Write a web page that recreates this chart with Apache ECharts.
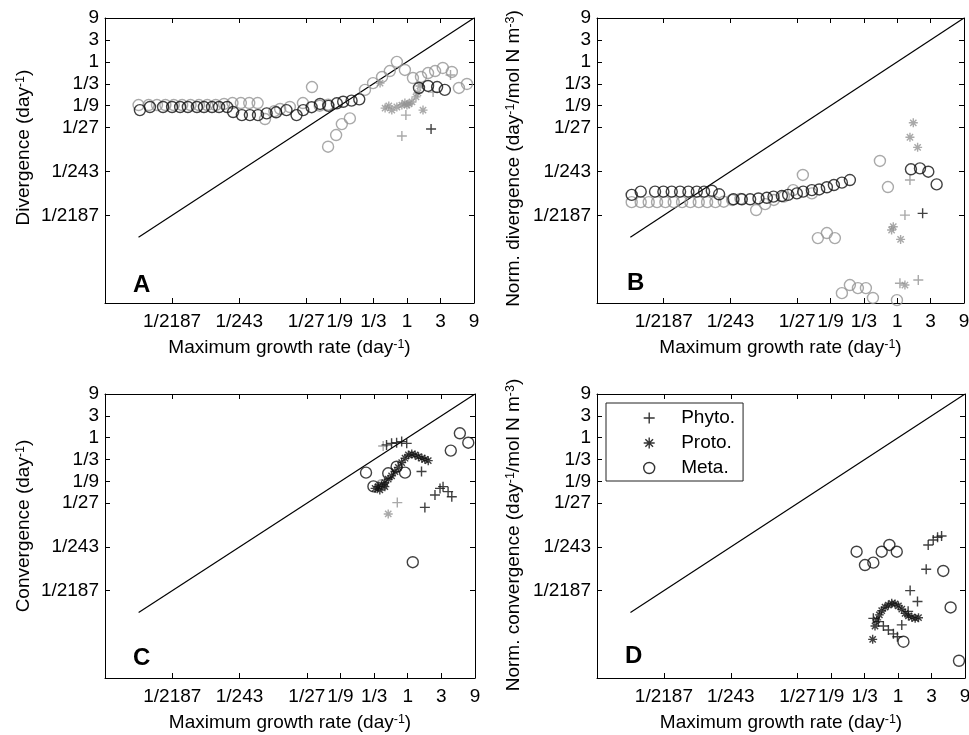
<!DOCTYPE html>
<html><head><meta charset="utf-8">
<script src="https://cdn.jsdelivr.net/npm/echarts@6/dist/echarts.min.js"></script>
<style>html,body{margin:0;padding:0;background:#fff}#c{width:969px;height:735px}</style>
</head><body><div id="c"></div>
<script>
// All point values below are written as base-3 exponents [log3(growth rate), log3(y value)],
// matching the powers-of-3 tick marks of the figure.
const tickValues = [1/2187, 1/243, 1/27, 1/9, 1/3, 1, 3, 9];
const tickLabels = ['1/2187', '1/243', '1/27', '1/9', '1/3', '1', '3', '9'];
const panelLetters = ['A', 'B', 'C', 'D'];
const legendNames = ['Phyto.', 'Proto.', 'Meta.'];
const diagLine = [[-8, -8], [2, 2]];

// Panel A : Divergence
const metaBlackA = [[-7.96,-2.20],[-7.66,-2.06],[-7.27,-2.06],[-7.00,-2.06],[-6.76,-2.06],[-6.53,-2.06],[-6.26,-2.06],[-6.05,-2.06],[-5.81,-2.06],[-5.60,-2.06],[-5.36,-2.06],[-5.18,-2.29],[-4.92,-2.43],[-4.68,-2.43],[-4.44,-2.43],[-4.18,-2.35],[-3.90,-2.30],[-3.59,-2.20],[-3.29,-2.43],[-3.09,-2.20],[-2.84,-2.07],[-2.59,-1.92],[-2.34,-2.01],[-2.09,-1.89],[-1.90,-1.82],[-1.65,-1.77],[-1.42,-1.71],[0.36,-1.19],[0.63,-1.10],[0.90,-1.15],[1.13,-1.28]];
const metaGrayA = [[-8.00,-1.97],[-7.70,-1.97],[-7.45,-1.97],[-7.20,-1.97],[-6.95,-1.97],[-6.70,-1.97],[-6.45,-1.97],[-6.20,-1.97],[-5.95,-1.97],[-5.70,-1.97],[-5.45,-1.92],[-5.20,-1.88],[-4.95,-1.88],[-4.70,-1.88],[-4.45,-1.88],[-4.23,-2.61],[-3.95,-2.25],[-3.78,-2.15],[-3.49,-2.06],[-3.10,-1.88],[-2.83,-1.15],[-2.60,-2.00],[-2.35,-1.95],[-1.25,-1.28],[-1.01,-0.97],[-0.74,-0.69],[-0.51,-0.42],[-0.30,0.00],[-0.06,-0.37],[0.18,-0.74],[0.42,-0.69],[0.63,-0.51],[0.84,-0.42],[1.07,-0.28],[1.34,-0.46],[1.55,-1.19],[1.79,-1.01],[-1.70,-2.58],[-1.94,-2.84],[-2.11,-3.34],[-2.35,-3.87]];
const protoGrayA = [[-0.80,-0.97],[-0.65,-2.11],[-0.54,-2.01],[-0.45,-2.20],[-0.30,-2.06],[-0.15,-1.97],[-0.06,-1.88],[0.00,-1.97],[0.06,-1.92],[0.15,-1.83],[0.27,-1.60],[0.33,-1.42],[0.39,-1.10],[0.48,-2.20]];
const phytoGrayA = [[-0.15,-3.38],[-0.03,-2.43],[0.78,-1.38],[1.30,-0.60]];
const phytoBlackA = [[0.72,-3.06]];

// Panel B : Normalised divergence
const metaBlackB = [[-7.96,-6.07],[-7.69,-5.92],[-7.26,-5.92],[-7.01,-5.92],[-6.76,-5.92],[-6.51,-5.92],[-6.26,-5.92],[-6.01,-5.92],[-5.79,-5.92],[-5.56,-5.88],[-5.34,-6.04],[-4.91,-6.27],[-4.66,-6.27],[-4.41,-6.27],[-4.16,-6.23],[-3.91,-6.20],[-3.71,-6.15],[-3.46,-6.12],[-3.27,-6.07],[-3.01,-6.00],[-2.82,-5.92],[-2.56,-5.85],[-2.34,-5.82],[-2.11,-5.72],[-1.90,-5.62],[-1.66,-5.51],[-1.42,-5.39],[0.41,-4.90],[0.68,-4.86],[0.93,-5.01],[1.18,-5.59]];
const metaGrayB = [[-7.96,-6.40],[-7.69,-6.40],[-7.45,-6.40],[-7.20,-6.40],[-6.95,-6.40],[-6.70,-6.40],[-6.45,-6.40],[-6.20,-6.40],[-5.95,-6.40],[-5.70,-6.40],[-5.45,-6.40],[-5.20,-6.38],[-4.95,-6.30],[-4.70,-6.25],[-4.23,-6.76],[-3.96,-6.49],[-3.70,-6.30],[-3.40,-6.15],[-3.12,-5.85],[-2.83,-5.16],[-2.56,-6.00],[-0.52,-4.52],[-0.28,-5.71],[-2.38,-8.04],[-2.11,-7.81],[-1.87,-8.04],[-1.66,-10.55],[-1.42,-10.18],[-1.18,-10.32],[-0.94,-10.32],[-0.73,-10.77],[-0.01,-10.87]];
const protoGrayB = [[0.48,-2.78],[0.38,-3.44],[0.61,-3.90],[-0.12,-7.52],[-0.17,-7.67],[0.10,-8.10],[0.23,-10.18]];
const phytoGrayB = [[0.38,-5.39],[0.23,-6.99],[0.08,-10.10],[0.63,-9.95]];
const phytoBlackB = [[0.76,-6.91]];

// Panel C : Convergence
const metaBlackC = [[-1.24,-1.60],[-1.02,-2.23],[-0.58,-1.63],[-0.33,-1.33],[-0.08,-1.60],[0.15,-5.70],[1.28,-0.59],[1.55,0.20],[1.80,-0.23]];
const metaGrayC = [[-0.78,-2.18]];
const phytoBlackC = [[-0.63,-0.33],[-0.48,-0.26],[-0.33,-0.23],[-0.18,-0.18],[-0.03,-0.26],[0.41,-1.55],[0.51,-3.19],[0.81,-2.62],[0.96,-2.32],[1.05,-2.24],[1.20,-2.47],[1.31,-2.70]];
const phytoGrayC = [[-0.73,-0.38],[-0.31,-2.97]];
const protoGrayC = [[-0.58,-3.49]];
const protoBlackC = [[-0.97,-2.32],[-0.83,-2.39],[-0.88,-2.24],[-0.78,-2.16],[-0.68,-2.24],[-0.68,-2.06],[-0.58,-1.90],[-0.48,-1.75],[-0.38,-1.55],[-0.28,-1.36],[-0.18,-1.14],[-0.08,-0.94],[0.02,-0.79],[0.12,-0.75],[0.22,-0.79],[0.32,-0.87],[0.42,-0.94],[0.51,-0.99],[0.61,-1.05]];

// Panel D : Normalised convergence
const metaBlackD = [[-1.24,-5.22],[-0.99,-5.83],[-0.74,-5.72],[-0.49,-5.22],[-0.26,-4.91],[-0.04,-5.22],[0.16,-9.34],[1.35,-6.10],[1.57,-7.77],[1.82,-10.21]];
const phytoBlackD = [[0.90,-4.91],[1.05,-4.68],[1.18,-4.56],[1.30,-4.50],[0.84,-6.02],[0.36,-7.00],[0.58,-7.50],[0.30,-7.95],[0.11,-8.57],[-0.74,-8.27],[-0.59,-8.42],[-0.44,-8.62],[-0.29,-8.80],[-0.14,-8.98],[-0.02,-9.11]];
const protoBlackD = [[-0.76,-9.23],[-0.69,-8.62],[-0.64,-8.34],[-0.56,-8.11],[-0.49,-7.92],[-0.39,-7.76],[-0.29,-7.66],[-0.19,-7.58],[-0.09,-7.61],[0.01,-7.70],[0.11,-7.85],[0.21,-8.04],[0.31,-8.16],[0.41,-8.22],[0.51,-8.27],[0.61,-8.24]];

const xNameText = '{a|Maximum growth rate (day}{s|-1}{a|)}';
const yNameTexts = [
  '{a|Divergence (day}{s|-1}{a|)}',
  '{a|Norm. divergence (day}{s|-1}{a|/mol N m}{s|-3}{a|)}',
  '{a|Convergence (day}{s|-1}{a|)}',
  '{a|Norm. convergence (day}{s|-1}{a|/mol N m}{s|-3}{a|)}'
];

// ---------------------------------------------------------------
const FONT = '"Liberation Sans", Arial, Helvetica, sans-serif';
const FS = 19;
const BLACK = '#111111', GRAY = '#939393';
const SYM = {
  circle: 'circle',
  plus: 'path://M5,0L5,10M0,5L10,5',
  star: 'path://M5,0L5,10M0,5L10,5M1.5,1.5L8.5,8.5M1.5,8.5L8.5,1.5'
};
const SIZE = { circle: 11, plus: 10, star: 9 };
const toVal = pts => pts.map(p => [Math.pow(3, p[0]), Math.pow(3, p[1])]);
const X_MIN = 1/19683, Y_MIN = 1/177147, AX_MAX = 9;

function fmt(v) {
  let best = 0, bd = Infinity;
  tickValues.forEach((t, i) => { const d = Math.abs(Math.log(v) - Math.log(t)); if (d < bd) { bd = d; best = i; } });
  return tickLabels[best];
}
const rich = {
  a: { fontSize: FS, color: '#000', fontFamily: FONT },
  s: { fontSize: 12.5, color: '#000', fontFamily: FONT, verticalAlign: 'top' }
};

const grids = [
  { left: 105, top: 18, width: 369, height: 285 },
  { left: 597, top: 18, width: 367, height: 285 },
  { left: 105, top: 394, width: 370, height: 284 },
  { left: 597, top: 394, width: 368, height: 284 }
].map(g => Object.assign({ show: false, containLabel: false, outerBoundsMode: 'none' }, g));

const yNameGap = [72, 74, 72, 74];
const yNamePad = [[0, 0, 0, 26], [0, 0, 0, 4], [0, 0, 0, 20], [0, 0, 0, 2]];

function axis(isX, gi, main) {
  const a = {
    type: 'log', logBase: 3, gridIndex: gi,
    min: isX ? X_MIN : Y_MIN, max: AX_MAX,
    position: isX ? (main ? 'bottom' : 'top') : (main ? 'left' : 'right'),
    axisLine: { show: true, onZero: false, lineStyle: { color: '#000', width: 1 } },
    axisTick: { show: true, inside: true, length: 5, customValues: tickValues, lineStyle: { color: '#000', width: 1 } },
    axisLabel: main ? { show: true, customValues: tickValues, formatter: fmt, fontSize: FS, color: '#000', fontFamily: FONT, margin: isX ? 9 : 6 } : { show: false },
    splitLine: { show: false }, minorTick: { show: false }, minorSplitLine: { show: false }
  };
  if (main) {
    a.name = isX ? xNameText : yNameTexts[gi];
    a.nameLocation = 'middle';
    a.nameTextStyle = { rich: rich, fontFamily: FONT, fontSize: FS, color: '#000' };
    if (isX) { a.nameGap = 35; }
    else { a.nameRotate = 90; a.nameGap = yNameGap[gi]; a.nameTextStyle.padding = yNamePad[gi]; }
  }
  return a;
}
const xAxes = [], yAxes = [];
for (let m = 0; m < 2; m++) for (let g = 0; g < 4; g++) { xAxes.push(axis(true, g, m === 0)); yAxes.push(axis(false, g, m === 0)); }

function scatter(name, pts, gi, shape, color) {
  return {
    type: 'scatter', name: name, xAxisIndex: gi, yAxisIndex: gi, data: toVal(pts),
    symbol: SYM[shape], symbolSize: SIZE[shape], silent: true,
    itemStyle: { color: 'rgba(0,0,0,0)', borderColor: color, borderWidth: color === GRAY ? 1.4 : 1.4 },
    emphasis: { disabled: true }, z: color === GRAY ? 2 : 3
  };
}
const series = [];
for (let g = 0; g < 4; g++) {
  series.push({ type: 'line', name: 'y = x', xAxisIndex: g, yAxisIndex: g, data: toVal(diagLine),
    symbol: 'none', silent: true, lineStyle: { color: '#000', width: 1.2 }, z: 1 });
}
series.push(
  scatter('Phyto.', phytoBlackA, 0, 'plus', BLACK),
  scatter('Proto.', protoBlackC, 2, 'star', BLACK),
  scatter('Meta.', metaBlackA, 0, 'circle', BLACK),
  scatter('Meta. (grey)', metaGrayA, 0, 'circle', GRAY),
  scatter('Proto. (grey)', protoGrayA, 0, 'star', GRAY),
  scatter('Phyto. (grey)', phytoGrayA, 0, 'plus', GRAY),
  scatter('Meta.', metaBlackB, 1, 'circle', BLACK),
  scatter('Meta. (grey)', metaGrayB, 1, 'circle', GRAY),
  scatter('Proto. (grey)', protoGrayB, 1, 'star', GRAY),
  scatter('Phyto. (grey)', phytoGrayB, 1, 'plus', GRAY),
  scatter('Phyto.', phytoBlackB, 1, 'plus', BLACK),
  scatter('Meta.', metaBlackC, 2, 'circle', BLACK),
  scatter('Meta. (grey)', metaGrayC, 2, 'circle', GRAY),
  scatter('Phyto.', phytoBlackC, 2, 'plus', BLACK),
  scatter('Phyto. (grey)', phytoGrayC, 2, 'plus', GRAY),
  scatter('Proto. (grey)', protoGrayC, 2, 'star', GRAY),
  scatter('Meta.', metaBlackD, 3, 'circle', BLACK),
  scatter('Phyto.', phytoBlackD, 3, 'plus', BLACK),
  scatter('Proto.', protoBlackD, 3, 'star', BLACK)
);

const letterPos = [[133, 273], [627, 271], [133, 646], [625, 644]];
const titles = panelLetters.map((t, i) => ({
  text: t, left: letterPos[i][0], top: letterPos[i][1], padding: 0,
  textStyle: { fontSize: 24, fontWeight: 'bold', color: '#000', fontFamily: FONT }
}));

const chart = echarts.init(document.getElementById('c'), null, { renderer: 'canvas' });
chart.setOption({
  animation: false,
  backgroundColor: '#fff',
  textStyle: { fontFamily: FONT },
  title: titles,
  grid: grids,
  xAxis: xAxes,
  yAxis: yAxes,
  legend: {
    data: legendNames, orient: 'vertical', left: 606, top: 403,
    selectedMode: false, borderColor: '#222', borderWidth: 1, borderRadius: 0,
    padding: [5, 8, 3, 37], itemWidth: 54, itemHeight: 11, itemGap: 5,
    itemStyle: { borderWidth: 1.4, borderColor: '#000' },
    textStyle: { fontSize: FS, lineHeight: 20, color: '#000', fontFamily: FONT }
  },
  series: series
});
</script></body></html>
